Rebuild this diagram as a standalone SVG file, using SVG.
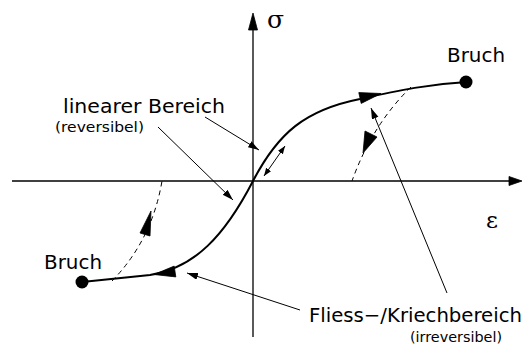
<svg xmlns="http://www.w3.org/2000/svg" width="525" height="349" viewBox="0 0 525 349">
<defs>
<style>
.lbl{font-family:"DejaVu Sans","Liberation Sans",sans-serif;fill:#000}
.axis{stroke:#000;stroke-width:1.3;fill:none}
.curve{stroke:#000;stroke-width:2;fill:none}
.lead{stroke:#000;stroke-width:1;fill:none}
.dash{stroke:#000;stroke-width:1;fill:none;stroke-dasharray:5,4}
.head{fill:#000;stroke:#000;stroke-width:0.8;stroke-linejoin:miter}
</style>
<marker id="ah" markerUnits="userSpaceOnUse" markerWidth="12" markerHeight="8" refX="11" refY="3.5" orient="auto">
<path d="M0,0 L11,3.5 L0,7 Z" fill="#000"/>
</marker>
<marker id="ahs" markerUnits="userSpaceOnUse" markerWidth="9" markerHeight="7" refX="8" refY="3" orient="auto-start-reverse">
<path d="M0,0 L8,3 L0,6 Z" fill="#000"/>
</marker>
</defs>
<rect width="525" height="349" fill="#fff"/>
<g id="axes">
<line class="axis" x1="12" y1="181" x2="512" y2="181"/>
<polygon class="head" points="522,181 509,176.5 509,185.5"/>
<line class="axis" x1="253" y1="337" x2="253" y2="26"/>
<polygon class="head" points="253,13 248.5,30 257.5,30"/>
<text x="267" y="28" style="font-family:'DejaVu Serif','Liberation Serif',serif;font-size:25px">σ</text>
<text x="486" y="228" style="font-family:'DejaVu Serif','Liberation Serif',serif;font-size:23px">ε</text>
</g>
<g id="connectors">
<path class="curve" d="M82,282 L150,275 C195,268 225,235 253,181 C278,133 305,110 360,99 C400,90 430,84 467,82"/>
<polygon class="head" points="381,93.5 358.8,92.6 361.2,103.4"/>
<polygon class="head" points="154,274.5 175.8,276.9 174.2,266.1"/>
<path class="dash" d="M411,87 Q372,125 352,181"/>
<polygon class="head" points="363,153 365,131 377,137"/>
<path class="dash" d="M112,281 Q152,240 162,181"/>
<polygon class="head" points="151,211 140,233 150,236"/>
<line class="lead" x1="264" y1="176" x2="285" y2="146" marker-start="url(#ahs)" marker-end="url(#ahs)"/>
<line class="lead" x1="205" y1="117" x2="259" y2="150" marker-end="url(#ah)"/>
<line class="lead" x1="158" y1="127" x2="233" y2="200" marker-end="url(#ah)"/>
<line class="lead" x1="300" y1="310" x2="187" y2="273" marker-end="url(#ah)"/>
<line class="lead" x1="447" y1="293" x2="371" y2="108" marker-end="url(#ah)"/>
</g>
<g id="bruch-top">
<circle cx="466" cy="82" r="6.5" fill="#000"/>
<text class="lbl" x="447" y="62" font-size="20" textLength="58" lengthAdjust="spacingAndGlyphs">Bruch</text>
</g>
<g id="bruch-bottom">
<circle cx="82" cy="282" r="6.5" fill="#000"/>
<text class="lbl" x="44" y="269" font-size="20" textLength="58" lengthAdjust="spacingAndGlyphs">Bruch</text>
</g>
<g id="linear">
<text class="lbl" x="63" y="113" font-size="19" textLength="162" lengthAdjust="spacingAndGlyphs">linearer Bereich</text>
<text class="lbl" x="55" y="132" font-size="14" textLength="89" lengthAdjust="spacingAndGlyphs">(reversibel)</text>
</g>
<g id="fliess">
<text class="lbl" x="309" y="322" font-size="20" textLength="213" lengthAdjust="spacingAndGlyphs">Fliess−/Kriechbereich</text>
<text class="lbl" x="410" y="342" font-size="14" textLength="92" lengthAdjust="spacingAndGlyphs">(irreversibel)</text>
</g>
</svg>
